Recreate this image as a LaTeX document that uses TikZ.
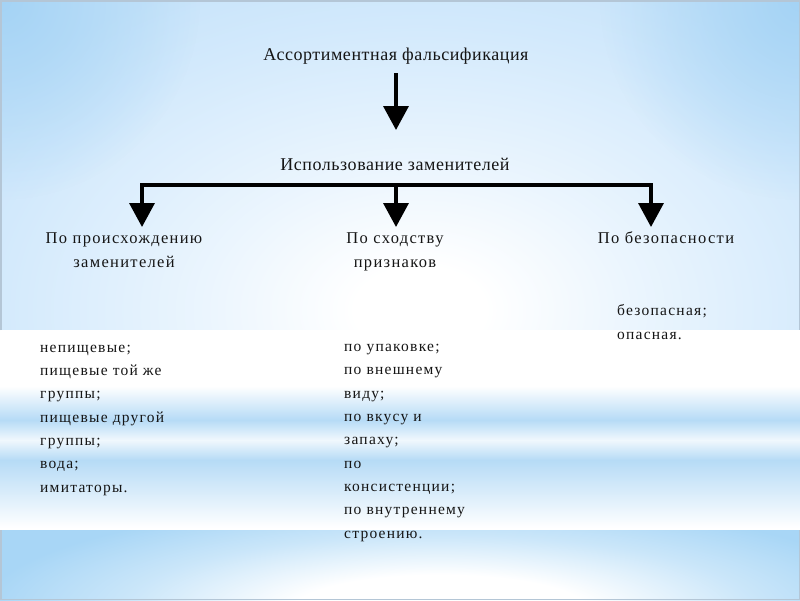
\documentclass[tikz,border=0pt]{standalone}
\usepackage{fontspec}
\setmainfont{Liberation Serif}
\newfontfamily\ttlfont[LetterSpace=3]{Liberation Serif}
\newfontfamily\wfont[LetterSpace=8]{Liberation Serif}
\usetikzlibrary{arrows.meta,fadings}
\definecolor{basebl}{HTML}{C8E4FA}
\definecolor{midbl}{HTML}{D2E9FC}
\definecolor{deepbl}{HTML}{A4D3F5}
\definecolor{stripebl}{HTML}{B6DBF6}
\definecolor{botbl}{HTML}{A8D6F6}
\definecolor{edgegr}{HTML}{B4C6D6}
\definecolor{txt}{HTML}{151515}
\tikzfading[name=softdot, inner color=transparent!0, outer color=transparent!100]
\pgfdeclareradialshading{glowtop}{\pgfpoint{0bp}{0bp}}{color(0bp)=(white); color(3bp)=(white); color(10bp)=(white!55!midbl); color(20bp)=(midbl); color(25bp)=(basebl); color(50bp)=(basebl)}
\pgfdeclareradialshading{glowbot}{\pgfpoint{0bp}{0bp}}{color(0bp)=(white); color(8bp)=(white); color(17bp)=(white!40!botbl); color(25bp)=(botbl); color(50bp)=(botbl)}
\tikzset{
  ttl/.style={font=\ttlfont\fontsize{18}{24}\selectfont, text=txt, inner sep=0pt, anchor=base},
  head/.style={font=\wfont\fontsize{16.5}{24}\selectfont, text=txt, inner sep=0pt, align=center, anchor=base},
  lst/.style={font=\wfont\fontsize{15.5}{23.3}\selectfont, text=txt, inner sep=0pt, align=left, anchor=base west},
  arr/.style={line width=3.5pt, -{Triangle[width=25pt,length=24pt]}},
  arrboth/.style={line width=3.5pt, line join=miter, {Triangle[width=25pt,length=24pt]}-{Triangle[width=25pt,length=24pt]}},
}
\begin{document}
\begin{tikzpicture}[x=1pt,y=-1pt]
\useasboundingbox (0,0) rectangle (800,600);
% ---------- background ----------
\begin{scope}
  \clip (0,0) rectangle (800,330);
  \shade[shading=glowtop] (-120,-50) rectangle (960,670);
  \fill[deepbl, path fading=softdot] (0,0) circle (200);
  \fill[deepbl, path fading=softdot] (800,0) circle (200);
\end{scope}
\fill[white] (0,330) rectangle (800,530);
\shade[top color=white, bottom color=stripebl] (0,386) rectangle (800,420);
\shade[top color=stripebl, bottom color=white!80!stripebl] (0,420) rectangle (800,440);
\shade[top color=white!80!stripebl, bottom color=stripebl] (0,440) rectangle (800,460);
\shade[top color=stripebl, bottom color=white] (0,460) rectangle (800,528);
\begin{scope}
  \clip (0,530) rectangle (800,600);
  \shade[shading=glowbot] (-20,500) rectangle (900,720);
\end{scope}
\draw[edgegr, line width=1.5pt] (0.75,330) -- (0.75,0.75) -- (799.25,0.75) -- (799.25,330);
\draw[edgegr, line width=1.5pt] (0.75,530) -- (0.75,599.25) -- (799.25,599.25) -- (799.25,530);
% ---------- nodes ----------
\node[ttl] (title) at (396,60) {Ассортиментная фальсификация};
\node[ttl] (usage) at (395,170) {Использование заменителей};
\node[head] (orig) at (124,267) {По происхождению\\заменителей};
\node[head] (simil) at (395,267) {По сходству\\признаков};
\node[head] (safe) at (666,243) {По безопасности};
\node[lst] (safelist) at (617,339) {безопасная;\\опасная.};
\node[lst] (origlist) at (40,492) {непищевые;\\пищевые той же\\группы;\\пищевые другой\\группы;\\вода;\\имитаторы.};
\node[lst] (simlist) at (344,538) {по упаковке;\\по внешнему\\виду;\\по вкусу и\\запаху;\\по\\консистенции;\\по внутреннему\\строению.};
% ---------- connectors ----------
\coordinate (t0) at (396,130);
\coordinate (barL) at (142,185);
\coordinate (barM) at (396,185);
\coordinate (barR) at (651,185);
\coordinate (t1) at (142,227);
\coordinate (t2) at (396,227);
\coordinate (t3) at (651,227);
\draw[arr] ([yshift=-9pt]title.south -| t0) -- (t0);
\draw[arrboth] (t1) -- (barL) -- (barR) -- (t3);
\draw[arr] (barM) -- (t2);
\end{tikzpicture}
\end{document}
